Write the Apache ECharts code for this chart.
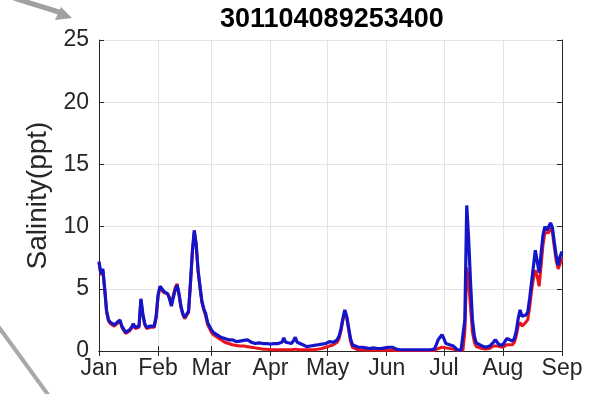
<!DOCTYPE html>
<html>
<head>
<meta charset="utf-8">
<script src="https://cdn.jsdelivr.net/npm/echarts@6/dist/echarts.min.js"></script>
<style>html,body{margin:0;padding:0;background:#fff;}#c{width:616px;height:394px;}</style>
</head>
<body>
<div id="c"></div>
<script>
const chartTitle = '301104089253400';
const yAxisTitle = 'Salinity(ppt)';
const monthLabels = ['Jan','Feb','Mar','Apr','May','Jun','Jul','Aug','Sep'];
const yTicks = [0, 5, 10, 15, 20, 25];

// [day since Jan 1, salinity ppt]
const redObs = [
[0,7.1],[1,6.1],[2,6.5],[3,4.9],[4,3.1],[5,2.4],[6,2.2],[8,2.0],[9,1.9],[11,2.4],[12,1.9],[14,1.4],[16,1.6],[17,1.8],[18,2.1],[19,1.8],[21,1.9],[22,4.1],[23,2.9],[24,2.1],[25,1.8],[27,1.9],[29,1.9],[30,2.7],[31,4.4],[32,5.1],[33,4.9],[34,4.7],[35,4.8],[36,4.6],[37,4.3],[38,3.7],[39,4.5],[40,5.1],[41,5.4],[42,4.5],[43,3.5],[44,2.9],[45,2.6],[46,2.7],[47,3.1],[48,5.4],[49,7.9],[50,9.6],[51,8.5],[52,6.4],[53,5.1],[54,3.9],[55,3.3],
[56,2.8],[57,2.1],[58,1.8],[59,1.5],[60,1.3],[62,1.1],[64,0.9],[66,0.7],[68,0.6],[70,0.5],[72,0.45],[74,0.4],[76,0.4],[78,0.35],[80,0.3],[82,0.25],[84,0.2],[86,0.15],[88,0.15],[90,0.1],[92,0.1],[94,0.1],[96,0.1],[97,0.15],[98,0.1],[101,0.1],[103,0.15],[105,0.1],[107,0.1],[109,0.1],[111,0.1],[113,0.1],[115,0.15],[117,0.2],[119,0.3],[121,0.4],[123,0.5],[125,0.7],[126,1.0],[127,1.6],[128,2.5],[129,3.2],[130,2.7],[131,1.7],[132,0.8],[133,0.3],[134,0.15],[136,0.1],[140,0.08],[146,0.06],[152,0.08],[156,0.05],[164,0.05],[170,0.05],[176,0.05],[178,0.2],[180,0.3],[182,0.25],[184,0.2],[186,0.15],[188,0.05],[191,0.05],[192,1.5],[193,6.7],[194,5.5],[195,3.5],[196,1.5],[197,0.7],[198,0.35],[199,0.25],[201,0.2],[203,0.15],[205,0.2],[207,0.4],[208,0.5],[209,0.4],[210,0.3],[212,0.3],[214,0.5],[215,0.5],[217,0.5],[218,0.7],[219,1.2],[220,2.0],[221,2.3],[222,2.0],[223,2.0],[224,2.3],[225,2.5],[226,3.5],[227,4.8],[228,5.8],[229,6.5],[230,6.0],[231,5.2],[232,6.8],[233,8.5],[234,9.5],[235,9.4],[236,9.5],[237,9.9],[238,9.5],[239,8.3],[240,7.2],[241,6.6],[242,7.0],[243,7.5]
];

const blueObs = [
[0,7.2],[1,6.2],[2,6.6],[3,5.0],[4,3.2],[5,2.5],[6,2.3],[8,2.1],[9,2.0],[11,2.5],[12,2.0],[14,1.5],[16,1.7],[17,1.9],[18,2.2],[19,1.9],[21,2.0],[22,4.2],[23,3.0],[24,2.2],[25,1.9],[27,2.0],[29,2.0],[30,2.8],[31,4.5],[32,5.2],[33,5.0],[34,4.8],[35,4.9],[36,4.6],[37,4.2],[38,3.6],[39,4.3],[40,4.9],[41,5.3],[42,4.6],[43,3.6],[44,3.0],[45,2.7],[46,2.8],[47,3.2],[48,5.5],[49,8.0],[50,9.7],[51,8.6],[52,6.5],[53,5.2],[54,4.0],[55,3.4],
[56,3.0],[57,2.3],[58,2.0],[59,1.7],[60,1.5],[62,1.3],[64,1.1],[66,1.0],[68,0.9],[70,0.9],[72,0.75],[74,0.8],[76,0.85],[78,0.9],[80,0.7],[82,0.6],[84,0.65],[86,0.6],[88,0.6],[90,0.55],[92,0.6],[94,0.6],[96,0.7],[97,1.05],[98,0.7],[99,0.6],[101,0.6],[102,0.8],[103,1.1],[104,0.7],[105,0.6],[107,0.5],[109,0.35],[111,0.4],[113,0.45],[115,0.5],[117,0.55],[119,0.6],[121,0.75],[123,0.7],[125,0.9],[126,1.2],[127,1.8],[128,2.6],[129,3.3],[130,2.8],[131,1.9],[132,1.0],[133,0.5],[134,0.35],[136,0.3],[138,0.3],[140,0.25],[142,0.2],[144,0.25],[146,0.2],[148,0.2],[150,0.25],[152,0.3],[154,0.3],[156,0.15],[158,0.1],[162,0.1],[166,0.1],[170,0.1],[174,0.1],[176,0.15],[177,0.5],[178,0.9],[179,1.1],[180,1.3],[181,1.0],[182,0.6],[183,0.5],[184,0.5],[186,0.4],[188,0.1],[190,0.05],[191,0.05],[192,2.5],[193,11.7],[194,9.0],[195,5.5],[196,2.5],[197,1.2],[198,0.65],[199,0.5],[201,0.4],[203,0.3],[205,0.4],[207,0.7],[208,0.9],[209,0.7],[210,0.5],[212,0.5],[214,1.0],[215,0.9],[217,0.8],[218,1.0],[219,1.6],[220,2.6],[221,3.3],[222,2.8],[223,2.7],[224,2.9],[225,3.1],[226,4.2],[227,5.5],[228,6.8],[229,8.1],[230,7.2],[231,6.3],[232,7.8],[233,9.3],[234,10.0],[235,9.7],[236,9.8],[237,10.3],[238,9.9],[239,8.7],[240,7.6],[241,6.9],[242,7.6],[243,8.0]
];

function toTime(d) { return new Date(2023, 0, 1 + d).getTime(); }
const xMin = toTime(0), xMax = new Date(2023, 8, 1).getTime();
const FONT = 'Liberation Sans, Arial, sans-serif';
const AX = '#262626';

const chart = echarts.init(document.getElementById('c'), null, {renderer: 'canvas'});
const xCommon = {
  type: 'time', min: xMin, max: xMax,
  minInterval: 28 * 86400000, maxInterval: 31 * 86400000
};
chart.setOption({
  animation: false,
  backgroundColor: '#fff',
  title: {
    text: chartTitle, left: 215, top: 1,
    textStyle: {fontFamily: FONT, fontSize: 27, fontWeight: 'bold', color: '#000'}
  },
  grid: {left: 99, right: 54, top: 40, bottom: 43},
  xAxis: [
    Object.assign({}, xCommon, {
      position: 'bottom',
      axisLine: {lineStyle: {color: AX, width: 1}},
      axisTick: {inside: true, length: 5, lineStyle: {color: AX}},
      splitLine: {show: true, lineStyle: {color: '#e3e3e3', width: 1}},
      axisLabel: {
        fontFamily: FONT, fontSize: 23, color: AX, margin: 6,
        showMinLabel: true, showMaxLabel: true, hideOverlap: false,
        formatter: function (v) { return monthLabels[new Date(v).getMonth()]; }
      }
    }),
    Object.assign({}, xCommon, {
      position: 'top',
      axisLine: {lineStyle: {color: AX, width: 1}},
      axisTick: {inside: true, length: 5, lineStyle: {color: AX}},
      splitLine: {show: false},
      axisLabel: {show: false}
    })
  ],
  yAxis: [
    {
      type: 'value', min: yTicks[0], max: yTicks[yTicks.length - 1], interval: 5,
      position: 'left',
      name: yAxisTitle, nameLocation: 'middle', nameGap: 47,
      nameTextStyle: {fontFamily: FONT, fontSize: 28, color: AX},
      axisLine: {show: true, lineStyle: {color: AX, width: 1}},
      axisTick: {show: true, inside: true, length: 5, lineStyle: {color: AX}},
      splitLine: {show: true, lineStyle: {color: '#e3e3e3', width: 1}},
      axisLabel: {fontFamily: FONT, fontSize: 23, color: AX, margin: 10}
    },
    {
      type: 'value', min: yTicks[0], max: yTicks[yTicks.length - 1], interval: 5,
      position: 'right',
      axisLine: {show: true, lineStyle: {color: AX, width: 1}},
      axisTick: {show: true, inside: true, length: 5, lineStyle: {color: AX}},
      splitLine: {show: false},
      axisLabel: {show: false}
    }
  ],
  series: [
    {
      type: 'line', name: 'red', showSymbol: false, symbol: 'none',
      data: redObs.map(p => [toTime(p[0]), p[1]]),
      lineStyle: {color: '#e8141c', width: 3}, z: 2
    },
    {
      type: 'line', name: 'blue', showSymbol: false, symbol: 'none',
      data: blueObs.map(p => [toTime(p[0]), p[1]]),
      lineStyle: {color: '#1414c8', width: 3.2}, z: 3
    }
  ],
  graphic: [
    {type: 'line', shape: {x1: 14, y1: -2, x2: 62, y2: 13}, style: {stroke: '#a0a0a0', lineWidth: 5}},
    {type: 'polygon', shape: {points: [[72, 18], [55, 20], [61, 7]]}, style: {fill: '#a0a0a0'}},
    {type: 'line', shape: {x1: -2, y1: 326, x2: 49, y2: 396}, style: {stroke: '#a8a8a8', lineWidth: 4}}
  ]
});
</script>
</body>
</html>
